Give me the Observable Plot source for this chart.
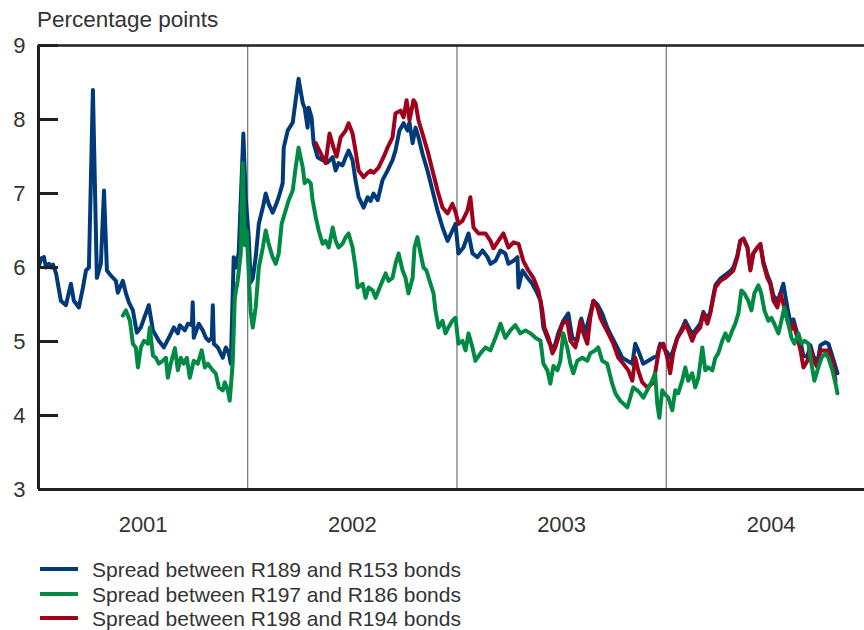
<!DOCTYPE html>
<html><head><meta charset="utf-8">
<script src="https://cdn.jsdelivr.net/npm/d3@7"></script>
<script src="https://cdn.jsdelivr.net/npm/@observablehq/plot@0.6"></script>
<style>
body{margin:0;background:#fff;}
#wrap{position:relative;width:864px;height:630px;font-family:"Liberation Sans",Arial,Helvetica,sans-serif;color:#333;}
#title{position:absolute;left:37px;top:9px;font-size:22.5px;line-height:1;white-space:nowrap;}
#legend{position:absolute;left:40px;top:558px;}
.row{display:flex;align-items:center;height:24.5px;font-size:21px;white-space:nowrap;}
.sw{width:38px;height:4px;margin-right:14px;position:relative;top:-1px;}
</style></head><body>
<div id="wrap"><div id="chart"></div><div id="title">Percentage points</div><div id="legend"></div></div>
<script>
// Time given as decimal years
const seriesNames = ["Spread between R189 and R153 bonds","Spread between R197 and R186 bonds","Spread between R198 and R194 bonds"];
const seriesColors = ["#003a78","#008a43","#a0001c"];
const yTicks = [3,4,5,6,7,8,9];
const yearLabels = [2001,2002,2003,2004];
const yearLines = [2002,2003,2004];
const xStart = 2001.0, xEnd = 2004.945;

const blue = [
[2001.002,6.02],[2001.012,6.12],[2001.026,6.14],[2001.036,6.00],[2001.050,6.05],[2001.060,6.00],[2001.069,6.04],[2001.084,5.92],[2001.107,5.55],[2001.131,5.49],[2001.155,5.78],[2001.169,5.55],[2001.193,5.46],[2001.212,5.72],[2001.227,5.96],[2001.241,6.00],[2001.260,8.40],[2001.279,5.86],[2001.298,6.05],[2001.313,7.04],[2001.327,5.96],[2001.346,5.89],[2001.370,5.82],[2001.379,5.66],[2001.403,5.82],[2001.418,5.65],[2001.432,5.53],[2001.451,5.42],[2001.470,5.12],[2001.489,5.19],[2001.513,5.38],[2001.527,5.49],[2001.547,5.15],[2001.575,5.01],[2001.599,4.92],[2001.623,5.05],[2001.647,5.19],[2001.666,5.11],[2001.675,5.22],[2001.699,5.15],[2001.714,5.24],[2001.733,5.22],[2001.737,5.53],[2001.742,5.05],[2001.766,5.24],[2001.785,5.15],[2001.800,5.05],[2001.814,5.01],[2001.828,5.05],[2001.833,5.49],[2001.838,4.97],[2001.857,4.92],[2001.881,4.78],[2001.895,4.92],[2001.909,4.85],[2001.919,4.70],[2001.933,6.14],[2001.943,6.00],[2001.957,6.20],[2001.979,7.81],[2001.990,6.95],
[2002.005,6.40],[2002.014,5.80],[2002.024,5.85],[2002.038,6.14],[2002.053,6.59],[2002.072,6.81],[2002.086,7.00],[2002.100,6.86],[2002.119,6.74],[2002.134,6.84],[2002.148,6.95],[2002.167,7.14],[2002.172,7.62],[2002.191,7.85],[2002.215,7.96],[2002.229,8.26],[2002.243,8.55],[2002.263,8.22],[2002.272,8.16],[2002.286,7.89],[2002.291,8.16],[2002.305,8.03],[2002.315,7.68],[2002.334,7.49],[2002.358,7.45],[2002.382,7.42],[2002.406,7.49],[2002.420,7.31],[2002.434,7.41],[2002.453,7.38],[2002.468,7.49],[2002.482,7.58],[2002.501,7.45],[2002.515,7.18],[2002.530,6.95],[2002.554,6.81],[2002.573,6.95],[2002.587,6.90],[2002.601,7.00],[2002.621,6.91],[2002.644,7.18],[2002.668,7.31],[2002.692,7.45],[2002.706,7.58],[2002.725,7.85],[2002.745,7.95],[2002.764,7.85],[2002.773,7.96],[2002.788,7.68],[2002.802,7.89],[2002.816,7.76],[2002.835,7.54],[2002.859,7.31],[2002.883,7.04],[2002.907,6.77],[2002.931,6.54],[2002.955,6.36],[2002.978,6.50],[2002.993,6.59],
[2003.007,6.19],[2003.031,6.27],[2003.055,6.46],[2003.074,6.19],[2003.098,6.14],[2003.122,6.23],[2003.146,6.14],[2003.160,6.05],[2003.184,6.09],[2003.208,6.23],[2003.231,6.19],[2003.246,6.05],[2003.270,6.09],[2003.289,6.14],[2003.294,5.73],[2003.313,5.96],[2003.337,5.86],[2003.360,5.78],[2003.384,5.65],[2003.399,5.55],[2003.413,5.19],[2003.437,5.01],[2003.461,4.88],[2003.484,5.11],[2003.508,5.28],[2003.532,5.38],[2003.551,5.05],[2003.575,5.01],[2003.594,5.31],[2003.613,5.11],[2003.637,5.38],[2003.652,5.55],[2003.671,5.50],[2003.694,5.38],[2003.718,5.19],[2003.742,5.05],[2003.766,4.92],[2003.790,4.78],[2003.814,4.74],[2003.838,4.70],[2003.852,4.97],[2003.866,4.88],[2003.890,4.70],[2003.914,4.74],[2003.938,4.78],[2003.957,4.81],[2003.971,4.97],
[2004.005,4.85],[2004.019,4.78],[2004.033,4.88],[2004.053,5.05],[2004.076,5.18],[2004.091,5.28],[2004.105,5.20],[2004.124,5.10],[2004.138,5.15],[2004.162,5.24],[2004.177,5.40],[2004.196,5.30],[2004.210,5.40],[2004.234,5.76],[2004.258,5.85],[2004.282,5.90],[2004.305,5.95],[2004.320,6.00],[2004.339,6.16],[2004.353,6.36],[2004.368,6.39],[2004.387,6.27],[2004.401,5.98],[2004.415,6.19],[2004.434,6.27],[2004.449,6.30],[2004.463,6.08],[2004.482,5.90],[2004.496,5.80],[2004.511,5.62],[2004.530,5.55],[2004.544,5.65],[2004.558,5.78],[2004.578,5.45],[2004.592,5.25],[2004.606,5.30],[2004.625,5.10],[2004.640,5.00],[2004.654,4.80],[2004.673,4.80],[2004.687,4.95],[2004.702,4.80],[2004.721,4.72],[2004.735,4.95],[2004.759,4.99],[2004.773,4.97],[2004.792,4.80],[2004.816,4.57]
];

const green = [
[2001.403,5.35],[2001.418,5.42],[2001.437,5.28],[2001.451,4.97],[2001.465,4.92],[2001.475,4.65],[2001.489,4.92],[2001.504,5.01],[2001.523,4.97],[2001.532,5.19],[2001.547,4.81],[2001.561,4.78],[2001.575,4.70],[2001.594,4.74],[2001.609,4.78],[2001.618,4.51],[2001.632,4.70],[2001.652,4.91],[2001.666,4.61],[2001.680,4.78],[2001.694,4.70],[2001.709,4.78],[2001.723,4.51],[2001.742,4.74],[2001.761,4.70],[2001.780,4.88],[2001.795,4.65],[2001.809,4.70],[2001.833,4.61],[2001.847,4.57],[2001.862,4.38],[2001.881,4.34],[2001.890,4.45],[2001.905,4.34],[2001.914,4.20],[2001.928,4.70],[2001.938,5.59],[2001.952,5.82],[2001.967,6.20],[2001.976,7.41],[2001.986,6.30],[2001.995,6.50],
[2002.005,5.90],[2002.014,5.40],[2002.024,5.19],[2002.038,5.46],[2002.053,6.00],[2002.072,6.27],[2002.086,6.50],[2002.100,6.32],[2002.119,6.14],[2002.134,6.05],[2002.148,6.19],[2002.162,6.59],[2002.181,6.77],[2002.196,6.91],[2002.215,7.04],[2002.229,7.35],[2002.243,7.62],[2002.263,7.35],[2002.272,7.14],[2002.286,7.18],[2002.301,7.14],[2002.310,6.91],[2002.325,6.68],[2002.339,6.50],[2002.358,6.32],[2002.372,6.36],[2002.387,6.27],[2002.406,6.54],[2002.420,6.36],[2002.434,6.27],[2002.453,6.32],[2002.468,6.41],[2002.482,6.46],[2002.501,6.27],[2002.515,6.00],[2002.525,5.73],[2002.549,5.78],[2002.563,5.59],[2002.577,5.73],[2002.597,5.69],[2002.611,5.59],[2002.625,5.69],[2002.644,5.82],[2002.659,5.92],[2002.673,5.82],[2002.692,5.86],[2002.706,6.05],[2002.721,6.19],[2002.740,5.96],[2002.754,5.86],[2002.768,5.65],[2002.788,5.86],[2002.797,6.27],[2002.811,6.41],[2002.826,6.19],[2002.840,6.00],[2002.854,5.96],[2002.869,5.82],[2002.888,5.65],[2002.897,5.42],[2002.912,5.19],[2002.931,5.28],[2002.945,5.11],[2002.959,5.19],[2002.978,5.28],[2002.993,5.32],
[2003.007,4.97],[2003.026,5.01],[2003.041,4.88],[2003.055,5.11],[2003.074,4.92],[2003.088,4.74],[2003.112,4.84],[2003.136,4.92],[2003.160,4.88],[2003.184,5.05],[2003.208,5.24],[2003.231,5.05],[2003.255,5.15],[2003.279,5.22],[2003.303,5.11],[2003.327,5.15],[2003.351,5.11],[2003.375,5.05],[2003.399,5.01],[2003.413,4.70],[2003.432,4.61],[2003.446,4.43],[2003.461,4.67],[2003.480,4.61],[2003.494,4.74],[2003.508,5.11],[2003.527,4.92],[2003.542,4.70],[2003.556,4.57],[2003.575,4.74],[2003.599,4.78],[2003.623,4.74],[2003.637,4.84],[2003.661,4.88],[2003.675,4.92],[2003.694,4.74],[2003.718,4.70],[2003.742,4.43],[2003.757,4.30],[2003.780,4.20],[2003.795,4.16],[2003.814,4.11],[2003.828,4.24],[2003.842,4.38],[2003.862,4.34],[2003.876,4.30],[2003.890,4.24],[2003.909,4.34],[2003.933,4.47],[2003.947,4.57],[2003.957,4.16],[2003.967,3.97],[2003.981,4.34],[2003.990,4.30],
[2004.010,4.24],[2004.029,4.07],[2004.043,4.34],[2004.057,4.30],[2004.076,4.47],[2004.091,4.65],[2004.105,4.47],[2004.124,4.57],[2004.138,4.38],[2004.153,4.51],[2004.172,4.92],[2004.186,4.61],[2004.200,4.65],[2004.220,4.61],[2004.234,4.78],[2004.248,4.84],[2004.267,5.01],[2004.282,5.11],[2004.296,5.01],[2004.315,5.15],[2004.329,5.24],[2004.344,5.38],[2004.358,5.69],[2004.372,5.65],[2004.391,5.55],[2004.406,5.42],[2004.420,5.65],[2004.439,5.76],[2004.453,5.65],[2004.468,5.42],[2004.487,5.28],[2004.501,5.32],[2004.515,5.24],[2004.535,5.11],[2004.549,5.28],[2004.563,5.46],[2004.582,5.24],[2004.597,5.05],[2004.611,4.97],[2004.630,5.11],[2004.644,4.97],[2004.659,5.01],[2004.678,4.97],[2004.692,4.70],[2004.706,4.47],[2004.725,4.65],[2004.740,4.78],[2004.759,4.84],[2004.773,4.78],[2004.792,4.61],[2004.807,4.43],[2004.816,4.30]
];

const red = [
[2002.325,7.68],[2002.339,7.60],[2002.358,7.49],[2002.372,7.41],[2002.391,7.81],[2002.410,7.62],[2002.425,7.50],[2002.444,7.76],[2002.468,7.85],[2002.482,7.95],[2002.501,7.81],[2002.515,7.58],[2002.530,7.31],[2002.554,7.22],[2002.573,7.28],[2002.587,7.31],[2002.601,7.28],[2002.625,7.35],[2002.649,7.49],[2002.668,7.62],[2002.692,7.76],[2002.706,8.08],[2002.730,8.12],[2002.745,8.03],[2002.759,8.26],[2002.773,7.99],[2002.792,8.26],[2002.802,8.22],[2002.816,7.99],[2002.835,7.81],[2002.859,7.58],[2002.883,7.31],[2002.907,7.04],[2002.931,6.81],[2002.955,6.73],[2002.978,6.86],[2002.993,6.75],
[2003.007,6.59],[2003.026,6.63],[2003.050,6.77],[2003.064,6.95],[2003.079,6.54],[2003.103,6.46],[2003.136,6.46],[2003.160,6.36],[2003.174,6.26],[2003.198,6.36],[2003.222,6.46],[2003.246,6.27],[2003.270,6.34],[2003.294,6.32],[2003.317,6.09],[2003.341,5.96],[2003.365,5.86],[2003.389,5.69],[2003.408,5.42],[2003.418,5.19],[2003.437,5.05],[2003.456,4.84],[2003.470,4.92],[2003.484,5.05],[2003.504,5.24],[2003.527,5.28],[2003.542,5.01],[2003.566,4.92],[2003.590,5.28],[2003.604,5.11],[2003.623,4.97],[2003.637,5.32],[2003.652,5.55],[2003.671,5.46],[2003.685,5.32],[2003.699,5.24],[2003.723,5.11],[2003.747,4.97],[2003.771,4.78],[2003.795,4.70],[2003.819,4.61],[2003.838,4.47],[2003.852,4.78],[2003.866,4.61],[2003.885,4.45],[2003.909,4.38],[2003.933,4.43],[2003.947,4.57],[2003.967,4.92],[2003.986,4.97],
[2004.005,4.78],[2004.019,4.57],[2004.033,4.84],[2004.053,5.05],[2004.076,5.15],[2004.091,5.24],[2004.105,5.15],[2004.124,5.01],[2004.138,5.11],[2004.162,5.19],[2004.177,5.38],[2004.196,5.24],[2004.210,5.38],[2004.234,5.73],[2004.258,5.82],[2004.282,5.86],[2004.305,5.92],[2004.320,5.96],[2004.339,6.14],[2004.353,6.36],[2004.368,6.39],[2004.387,6.27],[2004.401,5.96],[2004.415,6.19],[2004.434,6.27],[2004.449,6.32],[2004.463,6.05],[2004.482,5.86],[2004.496,5.78],[2004.511,5.55],[2004.530,5.46],[2004.544,5.65],[2004.558,5.51],[2004.578,5.28],[2004.592,5.15],[2004.606,5.24],[2004.625,5.05],[2004.640,4.88],[2004.654,4.65],[2004.673,4.74],[2004.687,4.92],[2004.702,4.74],[2004.721,4.65],[2004.735,4.88],[2004.759,4.88],[2004.773,4.88],[2004.792,4.74],[2004.807,4.47]
];

const toDate = y => { const Y = Math.floor(y); const a = Date.UTC(Y,0,1), b = Date.UTC(Y+1,0,1); return new Date(a + (y - Y) * (b - a)); };
const rowsOf = (arr) => arr.map(([t, v]) => ({date: toDate(t), value: v}));

const W = 864, H = 630, mL = 38, mT = 45, mB = 141, mR = 0;
const font = '"Liberation Sans", Arial, Helvetica, sans-serif';
const axisColor = "#231f20";

const chart = Plot.plot({
  width: W, height: H, marginTop: mT, marginBottom: mB, marginLeft: mL, marginRight: mR,
  style: {fontFamily: font, fontSize: "22px", color: "#333", background: "white", overflow: "visible"},
  x: {type: "utc", domain: [toDate(xStart), toDate(xEnd)]},
  y: {domain: [3, 9]},
  marks: [
    Plot.ruleX(yearLines.map(toDate), {stroke: "#555", strokeWidth: 1}),
    Plot.lineY(rowsOf(blue), {x: "date", y: "value", stroke: seriesColors[0], strokeWidth: 4}),
    Plot.lineY(rowsOf(red), {x: "date", y: "value", stroke: seriesColors[2], strokeWidth: 4}),
    Plot.lineY(rowsOf(green), {x: "date", y: "value", stroke: seriesColors[1], strokeWidth: 4}),
    Plot.ruleY([9], {stroke: axisColor, strokeWidth: 2.5}),
    Plot.ruleY([3], {stroke: axisColor, strokeWidth: 3}),
    Plot.ruleX([toDate(xStart)], {stroke: axisColor, strokeWidth: 3}),
    Plot.tickY(yTicks, {y: d => d, stroke: axisColor, strokeWidth: 3, insetRight: W - mL - mR - 20}),
    Plot.axisY({ticks: yTicks, tickSize: 0, tickPadding: 13, label: null, fontSize: 22, tickFormat: d => String(d)}),
    Plot.axisX({ticks: yearLabels.map(y => toDate(y + 0.5)), tickSize: 0, tickPadding: 27, label: null, fontSize: 22, tickFormat: d => String(d.getUTCFullYear())})
  ]
});
document.getElementById("chart").appendChild(chart);

const legend = document.getElementById("legend");
seriesNames.forEach((name, i) => {
  const row = document.createElement("div");
  row.className = "row";
  const sw = document.createElement("div");
  sw.className = "sw";
  sw.style.background = seriesColors[i];
  const tx = document.createElement("span");
  tx.textContent = name;
  row.appendChild(sw); row.appendChild(tx);
  legend.appendChild(row);
});
</script>
</body></html>
